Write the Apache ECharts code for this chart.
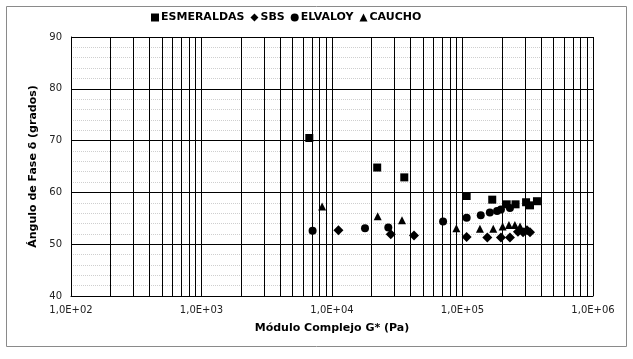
<!DOCTYPE html>
<html>
<head>
<meta charset="utf-8">
<script src="https://cdn.jsdelivr.net/npm/echarts@6/dist/echarts.min.js"></script>
<style>
  html, body { margin: 0; padding: 0; background: #fff; }
  #chart { width: 633px; height: 359px; }
</style>
</head>
<body>
<div id="chart"></div>
<script>
// series names
var seriesNames = ['ESMERALDAS', 'SBS', 'ELVALOY', 'CAUCHO']

// [G* (Pa), phase angle (deg)]
var esmeraldas = [
  [6700, 70.5], [22200, 64.8], [35800, 62.9], [107600, 59.3], [169000, 58.6],
  [218000, 57.7], [255000, 57.7], [307000, 58.1], [329000, 57.5], [372000, 58.3]
]
var sbs = [
  [11200, 52.7], [28200, 51.9], [42500, 51.7], [107600, 51.4], [155000, 51.3],
  [197000, 51.3], [231000, 51.3], [266000, 52.4], [291000, 52.3], [312000, 52.7], [329000, 52.3]
]
var elvaloy = [
  [7100, 52.6], [17900, 53.1], [27000, 53.2], [71000, 54.4], [107600, 55.1],
  [138000, 55.6], [162000, 56.1], [184000, 56.4], [197000, 56.7], [231000, 57.0]
]
var caucho = [
  [8400, 57.3], [22400, 55.4], [34400, 54.6], [89800, 53.1], [136000, 53.0],
  [172000, 53.0], [203000, 53.4], [227000, 53.7], [252000, 53.7], [276000, 53.4]
]

// x axis: decades 1E+02 .. 1E+06, y axis ticks
var xMin = 100
var xMax = 1000000
var yMin = 40
var yMax = 90
var yStep = 10

// minor vertical grid lines at 2..9 of each decade
var minorX = []
for (var d = xMin; d < xMax; d *= 10) {
  for (var k = 2; k <= 9; k++) {
    minorX.push({ xAxis: d * k })
  }
}

var font = 'DejaVu Sans'
var chart = echarts.init(document.getElementById('chart'))

chart.setOption({
  animation: false,
  backgroundColor: '#fff',
  graphic: [
    {
      type: 'rect',
      shape: { x: 6.5, y: 6.5, width: 620, height: 340 },
      style: { fill: 'none', stroke: '#8a8a8a', lineWidth: 1 },
      silent: true
    }
  ],
  legend: {
    top: 7,
    left: 146,
    itemWidth: 8,
    itemHeight: 8,
    itemGap: 6,
    textStyle: { fontFamily: font, fontWeight: 'bold', fontSize: 11, color: '#000', padding: [0, 0, 0, -3] },
    data: seriesNames
  },
  grid: {
    left: 71,
    right: 40,
    top: 37,
    bottom: 63
  },
  xAxis: {
    type: 'log',
    logBase: 10,
    min: xMin,
    max: xMax,
    name: 'Módulo Complejo G* (Pa)',
    nameLocation: 'middle',
    nameGap: 27,
    nameTextStyle: { fontFamily: font, fontWeight: 'bold', fontSize: 11, color: '#000' },
    axisLine: { show: true, onZero: false, lineStyle: { color: '#000', width: 1 } },
    axisTick: { show: false },
    axisLabel: {
      fontFamily: font,
      fontSize: 10,
      color: '#222',
      margin: 9,
      formatter: function (v) {
        var e = Math.round(Math.log10(v))
        return '1,0E+' + (e < 10 ? '0' : '') + e
      }
    },
    splitLine: { show: true, lineStyle: { color: '#000', width: 1 } }
  },
  yAxis: {
    type: 'value',
    min: yMin,
    max: yMax,
    interval: yStep,
    name: 'Ángulo de Fase δ (grados)',
    nameLocation: 'middle',
    nameGap: 31,
    nameTextStyle: { fontFamily: font, fontWeight: 'bold', fontSize: 11, color: '#000' },
    axisLine: { show: true, lineStyle: { color: '#000', width: 1 } },
    axisTick: { show: false },
    axisLabel: { fontFamily: font, fontSize: 10, color: '#222', margin: 9 },
    splitLine: { show: true, lineStyle: { color: '#000', width: 1 } },
    minorTick: { show: false, splitNumber: 5 },
    minorSplitLine: { show: true, lineStyle: { color: '#cfcfcf', width: 1, type: 'dotted' } }
  },
  series: [
    {
      name: seriesNames[0],
      type: 'scatter',
      symbol: 'rect',
      symbolSize: 8,
      itemStyle: { color: '#000', opacity: 1 },
      data: esmeraldas,
      markLine: {
        silent: true,
        symbol: 'none',
        label: { show: false },
        lineStyle: { color: '#000', width: 1, type: 'solid' },
        data: minorX
      }
    },
    {
      name: seriesNames[1],
      type: 'scatter',
      symbol: 'diamond',
      symbolSize: 10,
      itemStyle: { color: '#000', opacity: 1 },
      data: sbs
    },
    {
      name: seriesNames[2],
      type: 'scatter',
      symbol: 'circle',
      symbolSize: 8,
      itemStyle: { color: '#000', opacity: 1 },
      data: elvaloy
    },
    {
      name: seriesNames[3],
      type: 'scatter',
      symbol: 'triangle',
      symbolSize: 8,
      itemStyle: { color: '#000', opacity: 1 },
      data: caucho
    }
  ]
})
</script>
</body>
</html>
